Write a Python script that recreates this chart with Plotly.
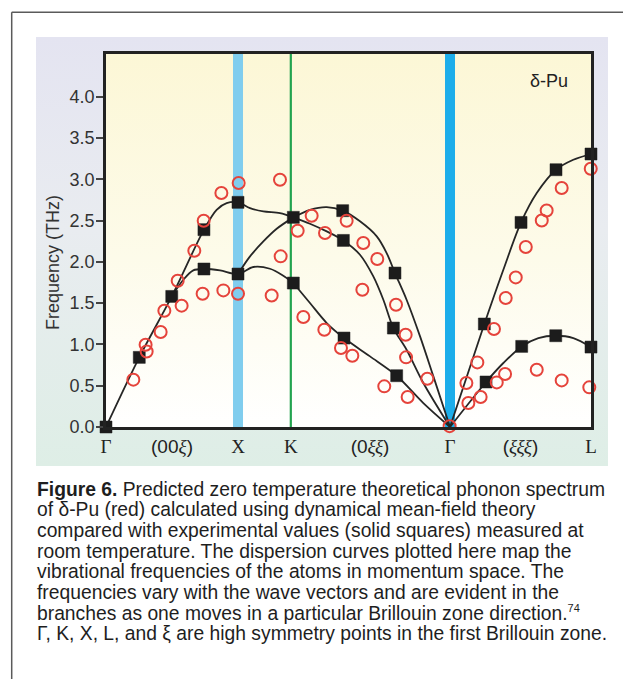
import base64
import plotly.graph_objects as go

# ---------------- data ----------------
# high-symmetry positions along the path (custom path coordinate)
tick_vals = [0.0, 0.5, 1.0, 1.40, 2.0, 2.606, 3.14, 3.674]
tick_text = [
    "Γ",
    "<span style='font-family:Liberation Sans'>(00</span><i>ξ</i><span style='font-family:Liberation Sans'>)</span>",
    "X",
    "K",
    "<span style='font-family:Liberation Sans'>(0</span><i>ξξ</i><span style='font-family:Liberation Sans'>)</span>",
    "Γ",
    "<span style='font-family:Liberation Sans'>(</span><i>ξξξ</i><span style='font-family:Liberation Sans'>)</span>",
    "L",
]
y_tick_vals = [0.0, 0.5, 1.0, 1.5, 2.0, 2.5, 3.0, 3.5, 4.0]
y_title = "Frequency (THz)"

q_X = 1.0
q_K = 1.40
q_G2 = 2.606

# experimental (solid squares)
exp_q = [0.0, 0.252, 0.498, 0.742, 0.742, 1.0, 1.0, 1.419, 1.419, 1.793, 1.798, 1.803,
         2.189, 2.177, 2.202, 2.866, 2.879, 3.144, 3.149, 3.409, 3.407, 3.674, 3.674]
exp_f = [0.0, 0.843, 1.581, 2.389, 1.913, 2.72, 1.852, 2.538, 1.743, 2.619, 2.259, 1.077,
         1.864, 1.198, 0.621, 1.247, 0.545, 2.477, 0.976, 3.115, 1.105, 3.305, 0.968]

# DMFT theory (red open circles)
dmft_q = [0.207, 0.300, 0.308, 0.414, 0.442, 0.543, 0.573, 0.669, 0.740, 0.732, 0.874, 0.889, 1.005, 1.000,
          1.318, 1.323, 1.255,
          1.452, 1.558, 1.659, 1.823, 1.495, 1.654, 1.780, 1.866, 1.949, 2.055, 1.942, 2.197, 2.270,
          2.273, 2.108, 2.285, 2.434, 2.603,
          2.730, 2.745, 2.813, 2.838, 2.939, 2.960, 3.023, 3.028, 3.104, 3.180, 3.301, 3.338, 3.452,
          3.672, 3.263, 3.452, 3.661]
dmft_f = [0.573, 0.996, 0.915, 1.150, 1.408, 1.771, 1.469, 2.134, 2.497, 1.614, 2.833, 1.654, 2.954, 1.614,
          2.994, 2.066, 1.593,
          2.376, 2.558, 2.348, 2.497, 1.332, 1.178, 0.956, 0.863, 2.228, 2.034, 1.662, 1.481, 1.117,
          0.843, 0.492, 0.363, 0.585, 0.010,
          0.533, 0.290, 0.782, 0.363, 1.186, 0.540, 0.641, 1.561, 1.811, 2.179, 2.501, 2.622, 2.893,
          3.127, 0.694, 0.564, 0.480]

# dispersion curves drawn through the experimental data
curve1_q = [0.0, 0.252, 0.498, 0.742, 0.838, 0.914, 1.0, 1.091, 1.192, 1.318, 1.419]
curve1_f = [0.0, 0.843, 1.581, 2.389, 2.63, 2.71, 2.72, 2.651, 2.61, 2.59, 2.538]
curve2_q = [0.498, 0.586, 0.661, 0.742, 0.864, 1.0, 1.116, 1.242, 1.343, 1.419]
curve2_f = [1.581, 1.783, 1.896, 1.913, 1.896, 1.852, 1.937, 1.916, 1.832, 1.743]
curve3_q = [1.0, 1.091, 1.192, 1.293, 1.419]
curve3_f = [1.852, 2.066, 2.247, 2.40, 2.538]
curve4_q = [1.419, 1.545, 1.672, 1.793, 1.924, 2.051, 2.126, 2.189, 2.277, 2.379, 2.48, 2.606]
curve4_f = [2.538, 2.63, 2.663, 2.619, 2.49, 2.308, 2.106, 1.864, 1.541, 1.097, 0.613, 0.0]
curve5_q = [1.419, 1.545, 1.672, 1.798, 1.924, 2.025, 2.101, 2.177, 2.277, 2.404, 2.606]
curve5_f = [2.538, 2.461, 2.368, 2.259, 2.086, 1.823, 1.541, 1.198, 0.936, 0.533, 0.0]
curve6_q = [1.419, 1.545, 1.672, 1.803, 2.0, 2.202, 2.404, 2.606]
curve6_f = [1.743, 1.501, 1.259, 1.077, 0.855, 0.621, 0.29, 0.0]
curve7_q = [2.606, 2.866, 3.01, 3.144, 3.263, 3.409, 3.54, 3.674]
curve7_f = [0.0, 1.247, 1.904, 2.477, 2.833, 3.115, 3.236, 3.305]
curve8_q = [2.606, 2.879, 3.01, 3.149, 3.275, 3.407, 3.54, 3.674]
curve8_f = [0.0, 0.545, 0.775, 0.976, 1.077, 1.105, 1.077, 0.968]

curves = [(curve1_q, curve1_f), (curve2_q, curve2_f), (curve3_q, curve3_f), (curve4_q, curve4_f),
          (curve5_q, curve5_f), (curve6_q, curve6_f), (curve7_q, curve7_f), (curve8_q, curve8_f)]

caption_lines = [
    "<b>Figure 6.</b> Predicted zero temperature theoretical phonon spectrum",
    "of δ-Pu (red) calculated using dynamical mean-field theory",
    "compared with experimental values (solid squares) measured at",
    "room temperature. The dispersion curves plotted here map the",
    "vibrational frequencies of the atoms in momentum space. The",
    "frequencies vary with the wave vectors and are evident in the",
    "branches as one moves in a particular Brillouin zone direction.<sup><span style='font-size:11px'>74</span></sup>",
    "Γ, K, X, L, and ξ are high symmetry points in the first Brillouin zone.",
]

# ---------------- layout geometry ----------------
W, H = 623, 679
L_M, R_M, T_M, B_M = 106, 32, 54, 252
PW = W - L_M - R_M
PH = H - T_M - B_M


def px(xpix):
    return (xpix - L_M) / PW


def py(ypix):
    return (H - B_M - ypix) / PH


def grad_uri(stops):
    s = ('<svg xmlns="http://www.w3.org/2000/svg" width="100" height="100" viewBox="0 0 100 100" '
         'preserveAspectRatio="none"><defs><linearGradient id="g" x1="0" y1="0" x2="0" y2="1">'
         + "".join(f'<stop offset="{o}" stop-color="{c}"/>' for o, c in stops)
         + '</linearGradient></defs><rect width="100" height="100" fill="url(#g)"/></svg>')
    return "data:image/svg+xml;base64," + base64.b64encode(s.encode()).decode()


fig = go.Figure()

for cq, cf in curves:
    fig.add_trace(go.Scatter(x=cq, y=cf, mode="lines",
                             line=dict(color="#262626", width=1.8, shape="spline", smoothing=0.9),
                             hoverinfo="skip", showlegend=False, cliponaxis=False))

fig.add_trace(go.Scatter(x=exp_q, y=exp_f, mode="markers", name="experiment",
                         marker=dict(symbol="square", size=12, color="#1c1c1c",
                                     line=dict(color="#1c1c1c", width=0.5)),
                         showlegend=False, cliponaxis=False))
fig.add_trace(go.Scatter(x=dmft_q, y=dmft_f, mode="markers", name="DMFT",
                         marker=dict(symbol="circle-open", size=12, color="#e5433b",
                                     line=dict(color="#e5433b", width=2)),
                         showlegend=False, cliponaxis=False))

shapes = [
    # X band, K line, Gamma band
    dict(type="line", xref="x", yref="paper", x0=q_X, x1=q_X, y0=0, y1=1,
         line=dict(color="#80cdee", width=10), layer="below"),
    dict(type="line", xref="x", yref="paper", x0=q_K, x1=q_K, y0=0, y1=1,
         line=dict(color="#22a34f", width=2.2), layer="below"),
    dict(type="line", xref="x", yref="paper", x0=q_G2, x1=q_G2, y0=0, y1=1,
         line=dict(color="#1cadea", width=10), layer="below"),
    # outer figure border (top + left)
    dict(type="line", xref="paper", yref="paper", x0=px(11.7), x1=px(11.7), y0=py(12.3), y1=py(H + 5),
         line=dict(color="#5a5a5a", width=1.5)),
    dict(type="line", xref="paper", yref="paper", x0=px(11.7), x1=px(W + 5), y0=py(12.3), y1=py(12.3),
         line=dict(color="#5a5a5a", width=1.5)),
]

images = [
    dict(source=grad_uri([(0, "#e4e4f1"), (0.45, "#e9ecf0"), (1, "#deeee6")]),
         xref="paper", yref="paper", x=px(36), y=py(37), sizex=px(608) - px(36), sizey=py(37) - py(466),
         xanchor="left", yanchor="top", sizing="stretch", layer="below"),
    dict(source=grad_uri([(0, "#fcf7d6"), (0.55, "#fdfbea"), (1, "#ffffff")]),
         xref="paper", yref="paper", x=0, y=1, sizex=1, sizey=1,
         xanchor="left", yanchor="top", sizing="stretch", layer="below"),
]

annotations = [
    dict(text="δ-Pu", xref="paper", yref="paper", x=px(549), y=py(81), xanchor="center",
         yanchor="middle", showarrow=False, font=dict(family="Liberation Sans", size=18, color="#222")),
    dict(text=y_title, xref="paper", yref="paper", x=px(53), y=py(263), xanchor="center",
         yanchor="middle", textangle=-90, showarrow=False,
         font=dict(family="Liberation Sans", size=18, color="#333")),
]
for i, line in enumerate(caption_lines):
    annotations.append(dict(text=line, xref="paper", yref="paper", x=px(35), y=py(489 + i * 20.7),
                            xanchor="left", yanchor="middle", showarrow=False, align="left",
                            font=dict(family="Liberation Sans", size=19.3, color="#1e1e1e")))

fig.update_layout(
    width=W, height=H,
    margin=dict(l=L_M, r=R_M, t=T_M, b=B_M),
    paper_bgcolor="white",
    plot_bgcolor="rgba(0,0,0,0)",
    shapes=shapes,
    images=images,
    annotations=annotations,
    xaxis=dict(range=[0, 3.674], tickvals=tick_vals, ticktext=tick_text, showgrid=False,
               zeroline=False, showline=True, mirror=True, linecolor="#222", linewidth=2.5,
               ticks="", tickfont=dict(family="Liberation Serif", size=19, color="#222")),
    yaxis=dict(range=[0, 4.516], tickvals=y_tick_vals, tickformat=".1f", showgrid=False,
               zeroline=False, showline=True, mirror=True, linecolor="#222", linewidth=2.5,
               ticks="outside", ticklen=7, tickwidth=1.5, tickcolor="#444",
               ticklabelstandoff=-2,
               tickfont=dict(family="Liberation Sans", size=18, color="#333")),
)

fig.write_html("out.html")
